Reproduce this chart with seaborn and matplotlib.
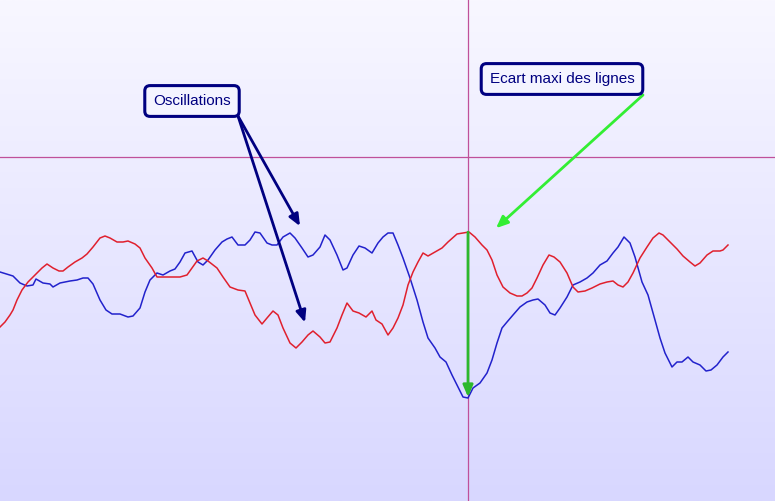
import numpy as np
import pandas as pd
import matplotlib
matplotlib.use("Agg")
import matplotlib.pyplot as plt
import seaborn as sns

# ---- data (x position, level; y grows downward as in the source) ----
blue_x = [0, 13, 20, 27, 33, 36, 43, 50, 53, 60, 70, 77, 83, 88, 93, 100, 106, 112,
          120, 128, 133, 140, 145, 150, 157, 163, 170, 175, 180, 185, 192, 198, 203,
          208, 215, 222, 227, 232, 238, 245, 250, 255, 260, 267, 272, 277, 283, 290,
          295, 302, 308, 313, 320, 325, 330, 337, 343, 347, 353, 359, 365, 372, 378,
          383, 388, 393, 398, 403, 410, 417, 423, 428, 435, 440, 446, 452, 457, 463,
          468, 473, 480, 487, 492, 497, 502, 507, 513, 520, 527, 533, 538, 545, 550,
          555, 560, 567, 573, 580, 587, 593, 600, 607, 613, 618, 624, 630, 635, 642,
          648, 655, 660, 665, 672, 677, 682, 688, 693, 700, 706, 711, 717, 723, 728]
blue_y = [272, 276, 283, 286, 285, 279, 283, 284, 287, 283, 281, 280, 278, 278, 284,
          300, 310, 314, 314, 317, 316, 308, 292, 280, 273, 275, 271, 269, 262, 253,
          251, 262, 265, 260, 250, 242, 239, 237, 245, 245, 240, 232, 233, 243, 245,
          245, 237, 233, 238, 248, 257, 255, 247, 235, 240, 255, 270, 268, 255, 246,
          248, 253, 243, 237, 233, 233, 245, 258, 278, 300, 322, 338, 348, 357, 362,
          375, 385, 397, 398, 388, 383, 373, 360, 343, 328, 322, 315, 307, 302, 300,
          299, 305, 313, 315, 308, 297, 285, 282, 278, 273, 265, 261, 253, 247, 237,
          243, 257, 282, 295, 320, 338, 353, 367, 362, 362, 357, 362, 365, 371, 370,
          365, 357, 352]

red_x = [0, 5, 10, 13, 17, 22, 28, 35, 42, 47, 53, 59, 63, 68, 75, 82, 87, 93, 100,
         105, 110, 117, 123, 128, 135, 140, 145, 152, 157, 163, 170, 180, 187, 192,
         197, 203, 208, 217, 223, 230, 238, 245, 250, 255, 262, 267, 273, 278, 283,
         290, 296, 302, 308, 313, 320, 325, 330, 337, 342, 347, 353, 359, 366, 372,
         376, 382, 388, 393, 398, 403, 408, 413, 418, 423, 428, 435, 442, 448, 457,
         463, 469, 475, 482, 487, 492, 497, 503, 510, 517, 522, 527, 532, 537, 543,
         549, 554, 560, 567, 573, 578, 585, 592, 600, 607, 613, 618, 623, 628, 633,
         640, 647, 653, 659, 663, 670, 677, 683, 690, 695, 700, 707, 713, 720, 723, 728]
red_y = [327, 322, 315, 310, 300, 290, 282, 275, 268, 264, 268, 271, 271, 267, 262,
         258, 254, 247, 238, 236, 238, 242, 242, 241, 244, 248, 258, 268, 277, 277,
         277, 277, 275, 268, 261, 258, 261, 268, 277, 287, 290, 291, 303, 315, 324,
         318, 311, 315, 328, 343, 348, 342, 335, 331, 337, 343, 342, 328, 315, 303,
         311, 313, 317, 311, 320, 324, 335, 328, 318, 305, 285, 272, 262, 253, 256,
         252, 248, 242, 234, 233, 232, 237, 245, 250, 260, 275, 287, 293, 296, 296,
         293, 288, 278, 265, 255, 257, 262, 273, 287, 292, 291, 288, 284, 282, 281,
         285, 287, 282, 273, 258, 247, 238, 233, 235, 242, 249, 256, 262, 266, 263,
         255, 251, 251, 250, 245]

labels = ["Oscillations", "Ecart maxi des lignes"]
crosshair_y = 157

W, H = 775, 501
fig = plt.figure(figsize=(W / 100, H / 100), dpi=100)
ax = fig.add_axes([0, 0, 1, 1])

# gradient background
grad = np.linspace(0, 1, 256).reshape(-1, 1)
top = np.array([0xF8, 0xF7, 0xFF]) / 255
bot = np.array([0xD8, 0xD7, 0xFF]) / 255
img = top + (bot - top) * grad[..., None]
ax.imshow(img, extent=[0, W, H, 0], aspect="auto", zorder=0)

df_b = pd.DataFrame({"x": blue_x, "y": blue_y})
df_r = pd.DataFrame({"x": red_x, "y": red_y})
sns.lineplot(data=df_b, x="x", y="y", ax=ax, color="#2222CC", lw=1.1, zorder=3)
sns.lineplot(data=df_r, x="x", y="y", ax=ax, color="#E0202E", lw=1.1, zorder=3)
ax.set_xlim(0, W)
ax.set_ylim(H, 0)
ax.axis("off")

# max gap location
bx = np.array(blue_x, float)
by = np.array(blue_y, float)
ry_on_b = np.interp(bx, red_x, red_y)
i = int(np.argmax(by - ry_on_b))
gx, g_top, g_bot = bx[i], ry_on_b[i], by[i]

# crosshair
cross_col = "#C0509A"
ax.axvline(gx, color=cross_col, lw=0.9, zorder=2)
ax.axhline(crosshair_y, color=cross_col, lw=0.9, zorder=2)

head = "-|>,head_length=0.7,head_width=0.3"
ax.annotate("", xy=(gx, g_bot - 1), xytext=(gx, g_top),
            arrowprops=dict(arrowstyle=head, color="#2DB82D", lw=2,
                            shrinkA=0, shrinkB=0), zorder=4)

navy = "#000080"
box = dict(boxstyle="round,pad=0.55,rounding_size=0.35", fc="#F4F4FF",
           ec=navy, lw=2.2)
ax.text(192, 101, labels[0], ha="center", va="center", fontsize=11,
        family="Liberation Sans", color=navy, bbox=box, zorder=6)
ax.text(562, 79, labels[1], ha="center", va="center", fontsize=11,
        family="Liberation Sans", color=navy, bbox=box, zorder=6)

# oscillation arrows
t1x = 300
t2x = 305
for tx, ty in [(t1x, np.interp(t1x, blue_x, blue_y) - 19),
               (t2x, np.interp(t2x, red_x, red_y) - 16)]:
    ax.annotate("", xy=(tx, ty), xytext=(238, 116),
                arrowprops=dict(arrowstyle=head, color=navy, lw=2,
                                shrinkA=0, shrinkB=0), zorder=5)

# green pointer to the gap
ax.annotate("", xy=(gx + 28, g_top - 4), xytext=(643, 95),
            arrowprops=dict(arrowstyle=head, color="#33EE33", lw=2,
                            shrinkA=0, shrinkB=0), zorder=5)

fig.savefig("out.png", dpi=100)
